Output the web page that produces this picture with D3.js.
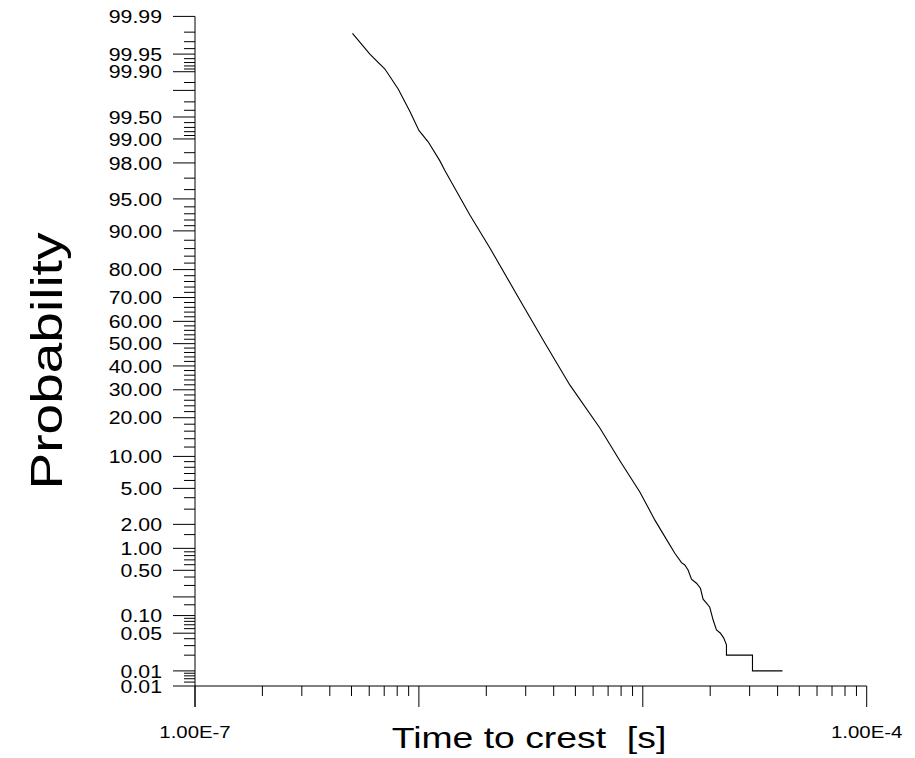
<!DOCTYPE html>
<html>
<head>
<meta charset="utf-8">
<script src="https://cdn.jsdelivr.net/npm/d3@7"></script>
<style>
  html, body { margin: 0; padding: 0; background: #fff; }
  svg { display: block; }
  text { font-family: "Liberation Sans", Arial, sans-serif; fill: #000; }
</style>
</head>
<body>
<svg id="chart" width="915" height="758"></svg>
<script>
// ---- data (time to crest [s], exceedance probability [%]) ----
const times = [5.05e-7, 6.04e-7, 7.05e-7, 8.08e-7, 9.12e-7, 1.0e-6, 1.10e-6, 1.241e-6, 1.306e-6,
  1.689e-6, 2.075e-6, 2.824e-6, 3.652e-6, 4.72e-6, 6.43e-6, 7.9e-6, 9.70e-6, 1.131e-5,
  1.254e-5, 1.39e-5, 1.489e-5, 1.54e-5, 1.593e-5, 1.65e-5, 1.737e-5, 1.809e-5, 1.859e-5,
  1.925e-5, 1.991e-5, 2.06e-5, 2.133e-5, 2.223e-5, 2.299e-5, 2.364e-5, 2.364e-5, 3.089e-5,
  3.089e-5, 4.205e-5];
const probs = [99.979, 99.950, 99.910, 99.81, 99.584, 99.23, 98.91, 98.11, 97.55,
  92.82, 86.16, 69.03, 50.3, 31.95, 16.9, 9.16, 4.6, 2.26,
  1.415, 0.86, 0.64, 0.595, 0.506, 0.371, 0.324, 0.272, 0.184,
  0.159, 0.137, 0.085, 0.057, 0.050, 0.041, 0.031, 0.02, 0.02,
  0.01, 0.01];

// ---- axis ticks ----
const yMajorTicks = [99.99, 99.95, 99.9, 99.8, 99.5, 99, 98, 95, 90, 80, 70, 60, 50, 40, 30, 20, 10, 5, 2, 1, 0.5, 0.2, 0.1, 0.05, 0.01, 0.005];
const yLabelValues = [99.99, 99.95, 99.9, 99.5, 99, 98, 95, 90, 80, 70, 60, 50, 40, 30, 20, 10, 5, 2, 1, 0.5, 0.1, 0.05, 0.01, 0.005];
const yLabelTexts = ["99.99", "99.95", "99.90", "99.50", "99.00", "98.00", "95.00", "90.00", "80.00", "70.00", "60.00", "50.00", "40.00", "30.00", "20.00", "10.00", "5.00", "2.00", "1.00", "0.50", "0.10", "0.05", "0.01", "0.01"];
const yMinorTicks = [99.98, 99.97, 99.96, 99.94, 99.93, 99.92, 99.91, 99.85, 99.7, 99.6, 99.4, 99.3, 99.2, 99.1,
  98.5, 97, 96, 94, 93, 92, 91, 88, 86, 84, 82, 78, 76, 74, 72, 68, 66, 64, 62, 58, 56, 54, 52,
  48, 46, 44, 42, 38, 36, 34, 32, 28, 26, 24, 22, 18, 16, 14, 12, 9, 8, 7, 6, 4, 3, 1.5,
  0.9, 0.8, 0.7, 0.6, 0.4, 0.3, 0.15, 0.09, 0.08, 0.07, 0.06, 0.04, 0.03, 0.02,
  0.009, 0.008, 0.007, 0.006];
const xMajorTicks = [1e-7, 1e-6, 1e-5, 1e-4];
const xLabelValues = [1e-7, 1e-4];
const xLabelTexts = ["1.00E-7", "1.00E-4"];
const xDomain = [1e-7, 1e-4];
const yDomain = [0.005, 99.99];
const xTitle = "Time to crest  [s]";
const yTitle = "Probability";

// ---- inverse normal CDF (Acklam) for probability paper ----
function qnorm(p) {
  const a = [-3.969683028665376e+01, 2.209460984245205e+02, -2.759285104469687e+02, 1.383577518672690e+02, -3.066479806614716e+01, 2.506628277459239e+00];
  const b = [-5.447609879822406e+01, 1.615858368580409e+02, -1.556989798598866e+02, 6.680131188771972e+01, -1.328068155288572e+01];
  const c = [-7.784894002430293e-03, -3.223964580411365e-01, -2.400758277161838e+00, -2.549732539343734e+00, 4.374664141464968e+00, 2.938163982698783e+00];
  const d = [7.784695709041462e-03, 3.224671290700398e-01, 2.445134137142996e+00, 3.754408661907416e+00];
  const pl = 0.02425, ph = 1 - pl;
  let q, r;
  if (p < pl) {
    q = Math.sqrt(-2 * Math.log(p));
    return (((((c[0]*q+c[1])*q+c[2])*q+c[3])*q+c[4])*q+c[5]) / ((((d[0]*q+d[1])*q+d[2])*q+d[3])*q+1);
  } else if (p <= ph) {
    q = p - 0.5; r = q * q;
    return (((((a[0]*r+a[1])*r+a[2])*r+a[3])*r+a[4])*r+a[5])*q / (((((b[0]*r+b[1])*r+b[2])*r+b[3])*r+b[4])*r+1);
  } else {
    q = Math.sqrt(-2 * Math.log(1 - p));
    return -(((((c[0]*q+c[1])*q+c[2])*q+c[3])*q+c[4])*q+c[5]) / ((((d[0]*q+d[1])*q+d[2])*q+d[3])*q+1);
  }
}

// ---- layout ----
const plotLeft = 195, plotRight = 866.7, plotTop = 16.4, plotBottom = 686;
const svg = d3.select("#chart");

const x = d3.scaleLog().domain(xDomain).range([plotLeft, plotRight]);
const zScale = d3.scaleLinear().domain([qnorm(yDomain[0] / 100), qnorm(yDomain[1] / 100)]).range([plotBottom, plotTop]);
const y = p => zScale(qnorm(p / 100));

const minorX = [];
xMajorTicks.slice(0, -1).forEach(t => { for (let k = 2; k <= 9; k++) minorX.push(t * k); });

const g = svg.append("g");

// Axis lines
g.append("line").attr("x1", plotLeft).attr("x2", plotLeft).attr("y1", plotTop).attr("y2", plotBottom + 21)
  .attr("stroke", "#000").attr("stroke-width", 1);
g.append("line").attr("x1", plotLeft).attr("x2", plotRight).attr("y1", plotBottom).attr("y2", plotBottom)
  .attr("stroke", "#000").attr("stroke-width", 1);

// Y ticks
g.selectAll("line.ymaj").data(yMajorTicks).join("line").attr("class", "ymaj")
  .attr("x1", plotLeft - 22).attr("x2", plotLeft).attr("y1", d => y(d)).attr("y2", d => y(d))
  .attr("stroke", "#000").attr("stroke-width", 1);
g.selectAll("line.ymin").data(yMinorTicks).join("line").attr("class", "ymin")
  .attr("x1", plotLeft - 11).attr("x2", plotLeft).attr("y1", d => y(d)).attr("y2", d => y(d))
  .attr("stroke", "#000").attr("stroke-width", 1);

// X ticks
g.selectAll("line.xmaj").data(xMajorTicks).join("line").attr("class", "xmaj")
  .attr("x1", d => x(d)).attr("x2", d => x(d)).attr("y1", plotBottom).attr("y2", plotBottom + 21)
  .attr("stroke", "#000").attr("stroke-width", 1);
g.selectAll("line.xmin").data(minorX).join("line").attr("class", "xmin")
  .attr("x1", d => x(d)).attr("x2", d => x(d)).attr("y1", plotBottom).attr("y2", plotBottom + 10)
  .attr("stroke", "#000").attr("stroke-width", 1);

// Y labels
g.selectAll("text.ylab").data(yLabelValues).join("text").attr("class", "ylab")
  .attr("transform", d => `translate(162,${y(d)}) scale(1.15,1)`)
  .attr("text-anchor", "end").attr("dy", "0.36em")
  .style("font-size", "18.5px")
  .text((d, i) => yLabelTexts[i]);

// X labels
g.selectAll("text.xlab").data(xLabelValues).join("text").attr("class", "xlab")
  .attr("transform", d => `translate(${x(d)},738) scale(1.2,1)`)
  .attr("text-anchor", "middle")
  .style("font-size", "17px")
  .text((d, i) => xLabelTexts[i]);

// Titles
svg.append("text")
  .attr("transform", `translate(529,748) scale(1.245,1)`)
  .attr("text-anchor", "middle").style("font-size", "30px").style("white-space", "pre")
  .text(xTitle);
svg.append("text")
  .attr("transform", `translate(62,361) rotate(-90) scale(1.25,1)`)
  .attr("text-anchor", "middle").style("font-size", "44px")
  .text(yTitle);

// Data line
const line = d3.line().x((d, i) => x(times[i])).y((d, i) => y(probs[i]));
g.append("path").datum(probs).attr("d", line)
  .attr("fill", "none").attr("stroke", "#000").attr("stroke-width", 1.1);
</script>
</body>
</html>
